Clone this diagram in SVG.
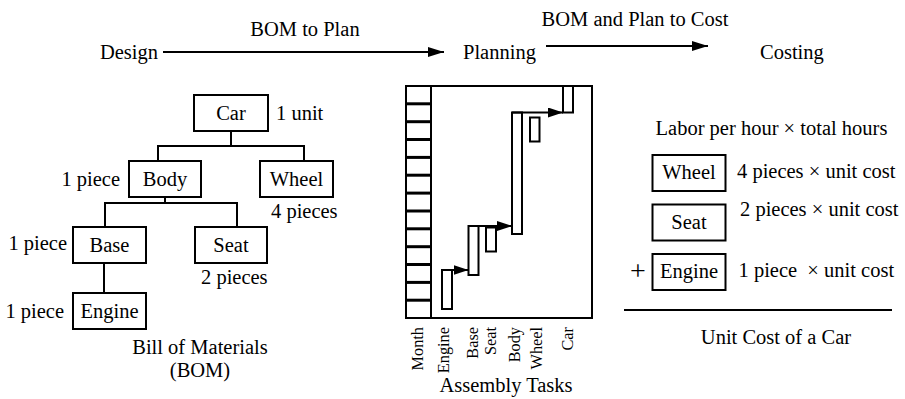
<svg xmlns="http://www.w3.org/2000/svg" width="905" height="399" viewBox="0 0 905 399">
<style>
text{font-family:"Liberation Serif","Times New Roman",serif;fill:#000;font-size:20.5px}
.sm{font-size:16.3px}
.box{fill:#fff;stroke:#000;stroke-width:2}
.bar{fill:#fff;stroke:#000;stroke-width:2}
.ln{fill:none;stroke:#000;stroke-width:2}
.mid{text-anchor:middle}
.end{text-anchor:end}
</style>
<defs>
<marker id="ah" viewBox="0 0 16 10" refX="16" refY="5" markerWidth="16" markerHeight="10" markerUnits="userSpaceOnUse" orient="auto">
<path d="M0,0 L16,5 L0,10 z" fill="#000"/>
</marker>
<marker id="ah2" viewBox="0 0 15 10" refX="15" refY="5" markerWidth="15" markerHeight="10" markerUnits="userSpaceOnUse" orient="auto">
<path d="M0,0 L15,5 L0,10 z" fill="#000"/>
</marker>
</defs>
<rect width="905" height="399" fill="#fff"/>

<!-- top flow -->
<g id="stage-design"><text x="158" y="59" class="end">Design</text></g>
<g id="stage-planning"><text x="463" y="58.5">Planning</text></g>
<g id="stage-costing"><text x="760" y="59">Costing</text></g>
<g id="flow-connectors">
<line x1="163" y1="52" x2="444" y2="52" class="ln" marker-end="url(#ah)"/>
<line x1="546" y1="46" x2="708" y2="46" class="ln" marker-end="url(#ah)"/>
<text x="305" y="35.5" class="mid">BOM to Plan</text>
<text x="635" y="25.5" class="mid">BOM and Plan to Cost</text>
</g>

<!-- BOM tree -->
<g id="bom-connectors">
<polyline points="231,131 231,146" class="ln"/>
<polyline points="158,161 158,146 304,146 304,161" class="ln"/>
<polyline points="165,197 165,203" class="ln"/>
<polyline points="105,227 105,203 237,203 237,227" class="ln"/>
<polyline points="104,263 104,293" class="ln"/>
</g>
<g id="node-car"><rect x="194" y="95" width="74" height="36" class="box"/><text x="231" y="119.5" class="mid">Car</text><text x="276" y="119.5">1 unit</text></g>
<g id="node-body"><rect x="129" y="161" width="72" height="36" class="box"/><text x="165" y="185.5" class="mid">Body</text><text x="120" y="185.5" class="end">1 piece</text></g>
<g id="node-wheel"><rect x="260" y="161" width="73" height="36" class="box"/><text x="296.5" y="185.5" class="mid">Wheel</text><text x="271" y="218">4 pieces</text></g>
<g id="node-base"><rect x="73" y="227" width="73" height="36" class="box"/><text x="109.5" y="251.5" class="mid">Base</text><text x="67" y="250" class="end">1 piece</text></g>
<g id="node-seat"><rect x="195" y="227" width="72" height="36" class="box"/><text x="231" y="251.5" class="mid">Seat</text><text x="201" y="284">2 pieces</text></g>
<g id="node-engine"><rect x="73" y="293" width="73" height="36" class="box"/><text x="109.5" y="317.5" class="mid">Engine</text><text x="64" y="317.5" class="end">1 piece</text></g>
<g id="bom-caption"><text x="200" y="354" class="mid">Bill of Materials</text><text x="200" y="377" class="mid">(BOM)</text></g>

<!-- planning chart -->
<g id="chart">
<rect x="406" y="86" width="186" height="232" fill="#fff" stroke="#000" stroke-width="2"/>
<line x1="431" y1="86" x2="431" y2="318" stroke="#000" stroke-width="2"/>
<g stroke="#000" stroke-width="3">
<line x1="406" y1="103.8" x2="431" y2="103.8"/>
<line x1="406" y1="121.7" x2="431" y2="121.7"/>
<line x1="406" y1="139.5" x2="431" y2="139.5"/>
<line x1="406" y1="157.4" x2="431" y2="157.4"/>
<line x1="406" y1="175.2" x2="431" y2="175.2"/>
<line x1="406" y1="193.1" x2="431" y2="193.1"/>
<line x1="406" y1="211" x2="431" y2="211"/>
<line x1="406" y1="228.8" x2="431" y2="228.8"/>
<line x1="406" y1="246.7" x2="431" y2="246.7"/>
<line x1="406" y1="264.5" x2="431" y2="264.5"/>
<line x1="406" y1="282.4" x2="431" y2="282.4"/>
<line x1="406" y1="300.2" x2="431" y2="300.2"/>
</g>
</g>
<g id="task-engine"><rect x="442" y="270" width="10" height="39" class="bar"/></g>
<g id="task-base"><rect x="468.5" y="226" width="10" height="49" class="bar"/></g>
<g id="task-seat"><rect x="486" y="227.5" width="10" height="24" class="bar"/></g>
<g id="task-body"><rect x="512" y="112.5" width="10" height="121.5" class="bar"/></g>
<g id="task-wheel"><rect x="530" y="117.5" width="9.5" height="24" class="bar"/></g>
<g id="task-car"><rect x="563" y="86" width="10" height="26.5" class="bar"/></g>
<g id="chart-connectors">
<line x1="442" y1="270" x2="468.5" y2="270" class="ln" marker-end="url(#ah2)"/>
<line x1="468.5" y1="226" x2="512" y2="226" class="ln" marker-end="url(#ah2)"/>
<line x1="512" y1="112.5" x2="563" y2="112.5" class="ln" marker-end="url(#ah2)"/>
</g>
<g id="chart-labels" class="sm">
<text class="sm end" transform="translate(423,327) rotate(-90)">Month</text>
<text class="sm end" transform="translate(449,327) rotate(-90)">Engine</text>
<text class="sm end" transform="translate(478,327) rotate(-90)">Base</text>
<text class="sm end" transform="translate(495.5,327) rotate(-90)">Seat</text>
<text class="sm end" transform="translate(520,327) rotate(-90)">Body</text>
<text class="sm end" transform="translate(541.5,327) rotate(-90)">Wheel</text>
<text class="sm end" transform="translate(573,327) rotate(-90)">Car</text>
<text x="506" y="392" class="mid">Assembly Tasks</text>
</g>

<!-- costing -->
<g id="cost-labor"><text x="771.5" y="134.5" class="mid">Labor per hour × total hours</text></g>
<g id="cost-wheel"><rect x="652.5" y="155" width="73" height="36" class="box"/><text x="689" y="179" class="mid">Wheel</text><text x="737" y="177.5">4 pieces × unit cost</text></g>
<g id="cost-seat"><rect x="652.5" y="204.5" width="73" height="36" class="box"/><text x="689" y="229" class="mid">Seat</text><text x="740" y="216">2 pieces × unit cost</text></g>
<g id="cost-engine"><rect x="652.5" y="254" width="73" height="36" class="box"/><text x="689" y="278" class="mid">Engine</text><text x="738.5" y="277" xml:space="preserve">1 piece  × unit cost</text></g>
<g id="cost-sum">
<text x="638" y="280" class="mid" style="font-size:28px">+</text>
<line x1="624" y1="310" x2="892" y2="310" class="ln"/>
<text x="776" y="344" class="mid">Unit Cost of a Car</text>
</g>
</svg>
